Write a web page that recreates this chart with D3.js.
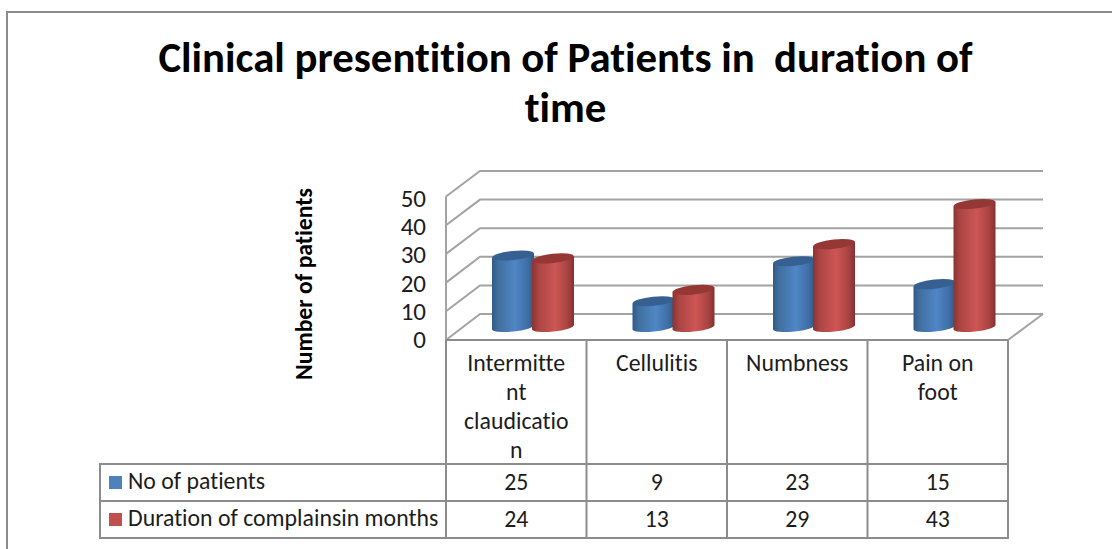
<!DOCTYPE html>
<html><head><meta charset="utf-8">
<script src="https://cdn.jsdelivr.net/npm/d3@7"></script>
<style>html,body{margin:0;padding:0;background:#fff}svg{display:block}text{font-family:Carlito,Calibri,Lato,"Open Sans",sans-serif;fill:#1c1c1c;font-variant-ligatures:none}</style>
</head><body><svg id="c" width="1112" height="549"></svg>
<script>
const categories=["Intermittent claudication","Cellulitis","Numbness","Pain on foot"];
const categoryLines=[["Intermitte","nt","claudicatio","n"],["Cellulitis"],["Numbness"],["Pain on","foot"]];
const seriesNames=["No of patients","Duration of complainsin months"];
const noOfPatients=[25,9,23,15];
const duration=[24,13,29,43];
const yTicks=[0,10,20,30,40,50];
const titleLines=["Clinical presentition of Patients in  duration of","time"];
const yTitle="Number of patients";
const seriesColors=["#4f81bd","#c0504d"];

const svg=d3.select("#c");
const defs=svg.append("defs");
const grey="#8c8c8c";
function grad(id,stops){const g=defs.append("linearGradient").attr("id",id);stops.forEach(([o,c])=>g.append("stop").attr("offset",o).attr("stop-color",c));}
grad("g0",[[0,"#31598a"],[.15,"#41709f"],[.55,"#4f86c6"],[.85,"#3f6ea6"],[1,"#2f5684"]]);
grad("g1",[[0,"#8a3331"],[.15,"#aa4543"],[.55,"#cd5654"],[.85,"#a84341"],[1,"#843130"]]);
const topCol=["#376092","#953735"];

// outer frame
svg.append("path").attr("d","M7,549V12H1112").attr("fill","none").attr("stroke",grey).attr("stroke-width",2);

// title
svg.append("g").selectAll("text").data(titleLines).join("text")
 .attr("x",565.5).attr("y",(d,i)=>72+i*50).attr("text-anchor","middle")
 .attr("font-size",42.8).attr("font-weight",700).style("fill","#000").style("white-space","pre").text(d=>d);

// scales
const x=d3.scaleBand().domain(d3.range(categories.length)).range([446,1008]);
const yFront=d3.scaleLinear().domain([0,50]).range([340,196.5]);
const yBack=d3.scaleLinear().domain([0,50]).range([314,171]);
const yBar=d3.scaleLinear().domain([0,50]).range([327,184]);
const yLabel=d3.scaleLinear().domain([0,50]).range([348,207]);

// walls and gridlines
const grid=svg.append("g").attr("fill","none").attr("stroke","#a3a3a3").attr("stroke-width",2);
yTicks.forEach(t=>{
 grid.append("path").attr("d",`M446,${yFront(t)}L480,${yBack(t)}H1043`);
});
grid.append("path").attr("d",`M446,${yFront(50)}V340`);
grid.append("path").attr("d",`M1008,340L1043,${yBack(0)}`);

// y ticks
svg.append("g").selectAll("text").data(yTicks).join("text")
 .attr("x",426).attr("y",d=>yLabel(d)).attr("text-anchor","end").attr("font-size",25).text(d=>d);
svg.append("text").attr("transform","translate(312,284) rotate(-90)").attr("text-anchor","middle")
 .attr("font-size",23.7).attr("font-weight",700).style("fill","#000").text(yTitle);

// cylinders
const bw=42, rx=bw/2, ry=4.6, tilt=-6;
const series=[noOfPatients,duration];
const barX=(c,s)=>x(c)+46+s*40;
categories.forEach((_,c)=>{
 [0,1].forEach(s=>{
  const g=svg.append("g");
  const cx=barX(c,s)+rx, v=series[s][c], yt=yBar(v), yb=yBar(0);
  const slope=Math.tan(tilt*Math.PI/180)*rx;
  g.append("path").attr("fill",`url(#g${s})`)
   .attr("d",`M${cx-rx},${yt-slope}L${cx-rx},${yb-slope}A${rx},${ry} ${tilt} 0 0 ${cx+rx},${yb+slope}L${cx+rx},${yt+slope}Z`);
  g.append("ellipse").attr("cx",cx).attr("cy",yt).attr("rx",rx).attr("ry",ry)
   .attr("transform",`rotate(${tilt} ${cx} ${yt})`).attr("fill",topCol[s]);
 });
});

// data table
const rows=[464,501,538], left=100;
const tbl=svg.append("g").attr("fill","none").attr("stroke",grey).attr("stroke-width",2);
tbl.append("path").attr("d",`M446,340H1008`);
rows.forEach(r=>tbl.append("path").attr("d",`M${left},${r}H1008`));
tbl.append("path").attr("d",`M${left},463V539`);
d3.range(categories.length).forEach(i=>tbl.append("path").attr("d",`M${x(i)},340V538`));
tbl.append("path").attr("d",`M1008,340V539`);

categoryLines.forEach((ls,i)=>{
 svg.append("g").selectAll("text").data(ls).join("text")
  .attr("x",x(i)+x.bandwidth()/2).attr("y",(d,j)=>371+j*29).attr("text-anchor","middle")
  .attr("font-size",23.8).text(d=>d);
});
seriesNames.forEach((n,s)=>{
 const y0=rows[s];
 svg.append("rect").attr("x",109).attr("y",y0+12).attr("width",13).attr("height",13).attr("fill",seriesColors[s]);
 svg.append("text").attr("x",128).attr("y",y0+25).attr("font-size",23.8).text(n);
 series[s].forEach((v,i)=>svg.append("text").attr("x",x(i)+x.bandwidth()/2).attr("y",y0+26).attr("text-anchor","middle").attr("font-size",23.8).text(v));
});
</script></body></html>
